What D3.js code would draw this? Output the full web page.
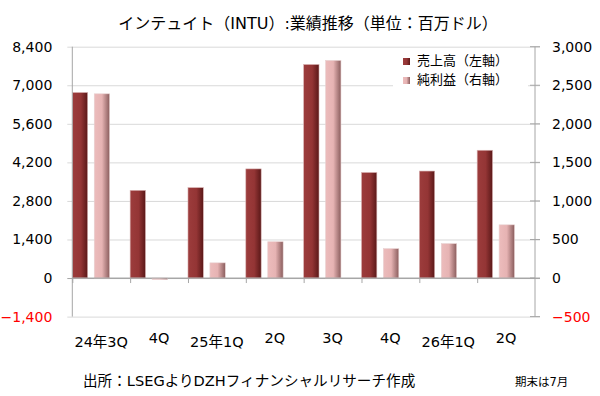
<!DOCTYPE html>
<html>
<head>
<meta charset="utf-8">
<script src="https://cdn.jsdelivr.net/npm/d3@7"></script>
<style>
  body { margin: 0; background: #fff; }
  svg text { font-family: "DejaVu Sans", "Noto Sans CJK JP", sans-serif; fill: #000; }
</style>
</head>
<body>
<div id="chart"></div>
<script>
const categories = ["24年3Q", "4Q", "25年1Q", "2Q", "3Q", "4Q", "26年1Q", "2Q"];
const revenue = [6737, 3185, 3283, 3963, 7754, 3833, 3885, 4640];
const netIncome = [2389, -20, 197, 471, 2822, 381, 446, 690];
const leftTicks = [-1400, 0, 1400, 2800, 4200, 5600, 7000, 8400];
const rightTicks = [-500, 0, 500, 1000, 1500, 2000, 2500, 3000];
const seriesNames = ["売上高（左軸）", "純利益（右軸）"];

const width = 600, height = 396;
const margin = { top: 46.7, right: 65, bottom: 79.4, left: 72.3 };
const innerW = width - margin.left - margin.right;
const innerH = height - margin.top - margin.bottom;

const svg = d3.select("#chart").append("svg")
  .attr("width", width)
  .attr("height", height);

// gradients for the bevelled bars
const defs = svg.append("defs");
function hGrad(id, stops) {
  const g = defs.append("linearGradient").attr("id", id)
    .attr("x1", "0%").attr("y1", "0%").attr("x2", "100%").attr("y2", "0%");
  stops.forEach(s => g.append("stop").attr("offset", s[0]).attr("stop-color", s[1]));
}
hGrad("grad-rev", [["0%", "#9c3c3c"], ["55%", "#943535"], ["100%", "#5a1818"]]);
hGrad("grad-ni", [["0%", "#ecbcbc"], ["50%", "#e6b3b3"], ["100%", "#8a5d5d"]]);

const g = svg.append("g").attr("transform", `translate(${margin.left},${margin.top})`);

const x = d3.scaleBand().domain(d3.range(categories.length)).range([0, innerW]).padding(0);
const xs = d3.scaleBand().domain([0, 1]).range([0, x.bandwidth() * 0.645]).paddingInner(0.3);
const yL = d3.scaleLinear().domain([-1400, 8400]).range([innerH, 0]);
const yR = d3.scaleLinear().domain([-500, 3000]).range([innerH, 0]);

// grid lines
g.append("g")
  .call(d3.axisLeft(yL).tickValues(leftTicks).tickSize(-innerW - 5).tickFormat(""))
  .call(s => s.select(".domain").remove())
  .selectAll("line")
  .attr("stroke", d => d === 0 ? "#a6a6a6" : "#d9d9d9")
  .attr("x1", -5);

// left axis labels
g.append("g")
  .call(d3.axisLeft(yL).tickValues(leftTicks).tickSize(0).tickPadding(20).tickFormat(d3.format(",")))
  .call(s => s.select(".domain").remove())
  .selectAll("text")
  .attr("font-size", 14)
  .style("fill", d => d < 0 ? "#ff0000" : "#000");

// right axis labels
g.append("g")
  .attr("transform", `translate(${innerW},0)`)
  .call(d3.axisRight(yR).tickValues(rightTicks).tickSize(0).tickPadding(17).tickFormat(d3.format(",")))
  .call(s => s.select(".domain").remove())
  .selectAll("text")
  .attr("font-size", 14)
  .style("fill", d => d < 0 ? "#ff0000" : "#000");

// bars
const bars = g.append("g");
bars.selectAll("rect.rev").data(revenue).join("rect")
  .attr("class", "rev")
  .attr("x", (d, i) => x(i) + xs(0))
  .attr("width", xs.bandwidth())
  .attr("y", d => yL(Math.max(0, d)))
  .attr("height", d => Math.abs(yL(d) - yL(0)))
  .attr("fill", "url(#grad-rev)")
  .attr("stroke", "#d9b3b3").attr("stroke-width", 0.6);

bars.selectAll("rect.ni").data(netIncome).join("rect")
  .attr("class", "ni")
  .attr("x", (d, i) => x(i) + xs(1))
  .attr("width", xs.bandwidth())
  .attr("y", d => yR(Math.max(0, d)))
  .attr("height", d => Math.max(1.5, Math.abs(yR(d) - yR(0))))
  .attr("fill", "url(#grad-ni)")
  .attr("stroke", "#e8d0d0").attr("stroke-width", 0.6);

// zero line with category ticks
const xAxis = g.append("g")
  .attr("transform", `translate(0,${yL(0)})`)
  .call(d3.axisBottom(x).tickSize(5).tickFormat(""));
xAxis.select(".domain").attr("stroke", "#a6a6a6").attr("d", `M0,0H${innerW}`);
xAxis.selectAll(".tick").attr("transform", (d) => `translate(${x(d) + 0.5},0)`)
  .select("line").attr("stroke", "#a6a6a6");

// vertical axis lines
g.append("line").attr("x1", 0).attr("x2", 0).attr("y1", 0).attr("y2", innerH).attr("stroke", "#a6a6a6");
g.append("line").attr("x1", innerW).attr("x2", innerW).attr("y1", 0).attr("y2", innerH).attr("stroke", "#a6a6a6");
g.append("g").selectAll("line").data(rightTicks).join("line")
  .attr("x1", innerW - 5).attr("x2", innerW + 5)
  .attr("y1", d => yR(d)).attr("y2", d => yR(d))
  .attr("stroke", "#a6a6a6");

// category labels
g.append("g").selectAll("text").data(categories).join("text")
  .attr("x", (d, i) => x(i) + x.bandwidth() / 2)
  .attr("y", innerH + 30)
  .attr("dy", d => d.includes("年") ? 0 : -4)
  .attr("text-anchor", "middle")
  .attr("font-size", 14.5)
  .text(d => d);

// legend
const legend = svg.append("g").attr("transform", "translate(393,52)");
legend.append("rect").attr("width", 135).attr("height", 44).attr("fill", "#fff");
const li = legend.selectAll("g").data(seriesNames).join("g")
  .attr("transform", (d, i) => `translate(0,${i * 19})`);
li.append("rect").attr("x", 10).attr("y", 6).attr("width", 7).attr("height", 7)
  .attr("fill", (d, i) => i === 0 ? "url(#grad-rev)" : "url(#grad-ni)");
li.append("text").attr("x", 24).attr("y", 13).attr("font-size", 13).text(d => d);

// title & notes
svg.append("text").attr("x", 308).attr("y", 29).attr("text-anchor", "middle")
  .attr("font-size", 16).text("インテュイト（INTU）:業績推移（単位：百万ドル）");
svg.append("text").attr("x", 83).attr("y", 386).attr("font-size", 14.6)
  .text("出所：LSEGよりDZHフィナンシャルリサーチ作成");
svg.append("text").attr("x", 515).attr("y", 386).attr("font-size", 11.5)
  .text("期末は7月");
</script>
</body>
</html>
